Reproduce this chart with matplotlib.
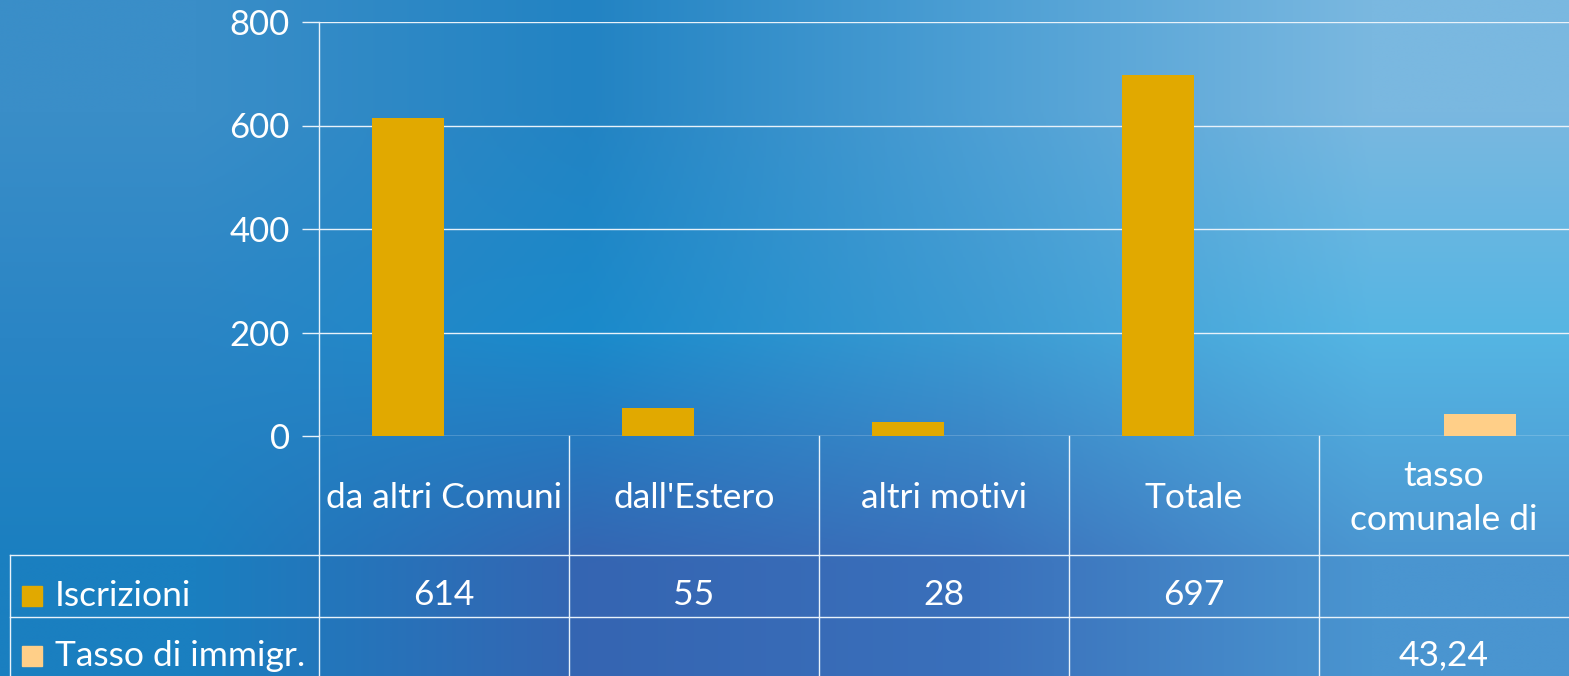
import numpy as np
import matplotlib
matplotlib.use("Agg")
import matplotlib.pyplot as plt
from matplotlib.colors import to_rgb
from matplotlib.patches import Rectangle

plt.rcParams['font.family'] = ['Lato', 'DejaVu Sans']

# dati
categorie = ["da altri Comuni", "dall'Estero", "altri motivi", "Totale", "tasso\ncomunale di"]
serie_nomi = ["Iscrizioni", "Tasso di immigr."]
iscrizioni = [614, 55, 28, 697, None]
tasso = [None, None, None, None, 43.24]
etichette_iscr = ["614", "55", "28", "697", ""]
etichette_tasso = ["", "", "", "", "43,24"]
y_ticks = [0, 200, 400, 600, 800]
colori = ["#e1a900", "#ffcf88"]

W, H = 1569, 676
fig = plt.figure(figsize=(W / 100, H / 100), dpi=100)

# sfondo a gradiente
bg = fig.add_axes([0, 0, 1, 1])
griglia = [["#3a8ec8", "#2283c3", "#4d9fd4", "#7ab8e0"],
           ["#2a85c5", "#1a8acb", "#3b9ad2", "#55b5e3"],
           ["#1a7fc0", "#3565b2", "#3a70bb", "#4a95d0"]]
img = np.array([[to_rgb(c) for c in riga] for riga in griglia])
bg.imshow(img, aspect='auto', interpolation='bilinear', extent=[0, 1, 0, 1])
bg.set_xlim(0, 1)
bg.set_ylim(0, 1)
bg.axis('off')

def fx(px):
    return px / W

def fy(py):
    return 1 - py / H

x0, x1 = 319, 1569
y_top, y_zero = 22, 436
ax = fig.add_axes([fx(x0), fy(y_zero), fx(x1) - fx(x0), fy(y_top) - fy(y_zero)])
ax.patch.set_alpha(0)
ax.set_xlim(-0.5, len(categorie) - 0.5)
ax.set_ylim(0, 800)

x = np.arange(len(categorie))
bw = 0.288
for i, v in enumerate(iscrizioni):
    if v is not None:
        ax.bar(x[i] - bw / 2, v, width=bw, color=colori[0], zorder=3)
for i, v in enumerate(tasso):
    if v is not None:
        ax.bar(x[i] + bw / 2, v, width=bw, color=colori[1], zorder=3)

ax.set_yticks(y_ticks)
ax.set_yticklabels([str(t) for t in y_ticks], color='white', fontsize=25)
ax.tick_params(axis='y', length=12, color='#e8f2fa', width=1, pad=9)
ax.set_xticks([])
ax.grid(axis='y', color='#e8f2fa', linewidth=1, zorder=1)
for s in ['top', 'right', 'bottom']:
    ax.spines[s].set_visible(False)
ax.spines['left'].set_color('#e8f2fa')
ax.spines['left'].set_linewidth(1)

# tabella dati
lc = '#e8f2fa'
fs = 25.5
fig.add_artist(plt.Line2D([fx(x0), fx(x0)], [fy(y_zero), 0], color=lc, lw=1))
for k in range(1, len(categorie)):
    xp = x0 + k * (x1 - x0) / len(categorie)
    fig.add_artist(plt.Line2D([fx(xp), fx(xp)], [fy(y_zero), 0], color=lc, lw=1))
for yp in [555, 617]:
    fig.add_artist(plt.Line2D([fx(10), 1], [fy(yp), fy(yp)], color=lc, lw=1))
fig.add_artist(plt.Line2D([fx(10), fx(10)], [fy(555), 0], color=lc, lw=1))

col_w = (x1 - x0) / len(categorie)
for i, c in enumerate(categorie):
    cx = x0 + (i + 0.5) * col_w
    fig.text(fx(cx), fy(498), c, color='white', fontsize=fs, ha='center', va='center',
             linespacing=1.45)
    fig.text(fx(cx), fy(595), etichette_iscr[i], color='white', fontsize=fs,
             ha='center', va='center')
    fig.text(fx(cx), fy(655), etichette_tasso[i], color='white', fontsize=fs,
             ha='center', va='center')

for j, (nome, yc) in enumerate(zip(serie_nomi, [596, 656])):
    fig.add_artist(Rectangle((fx(22), fy(yc + 10)), fx(20), 20 / H, color=colori[j]))
    fig.text(fx(55), fy(yc), nome, color='white', fontsize=fs, ha='left', va='center')

fig.savefig("out.png", dpi=100)
